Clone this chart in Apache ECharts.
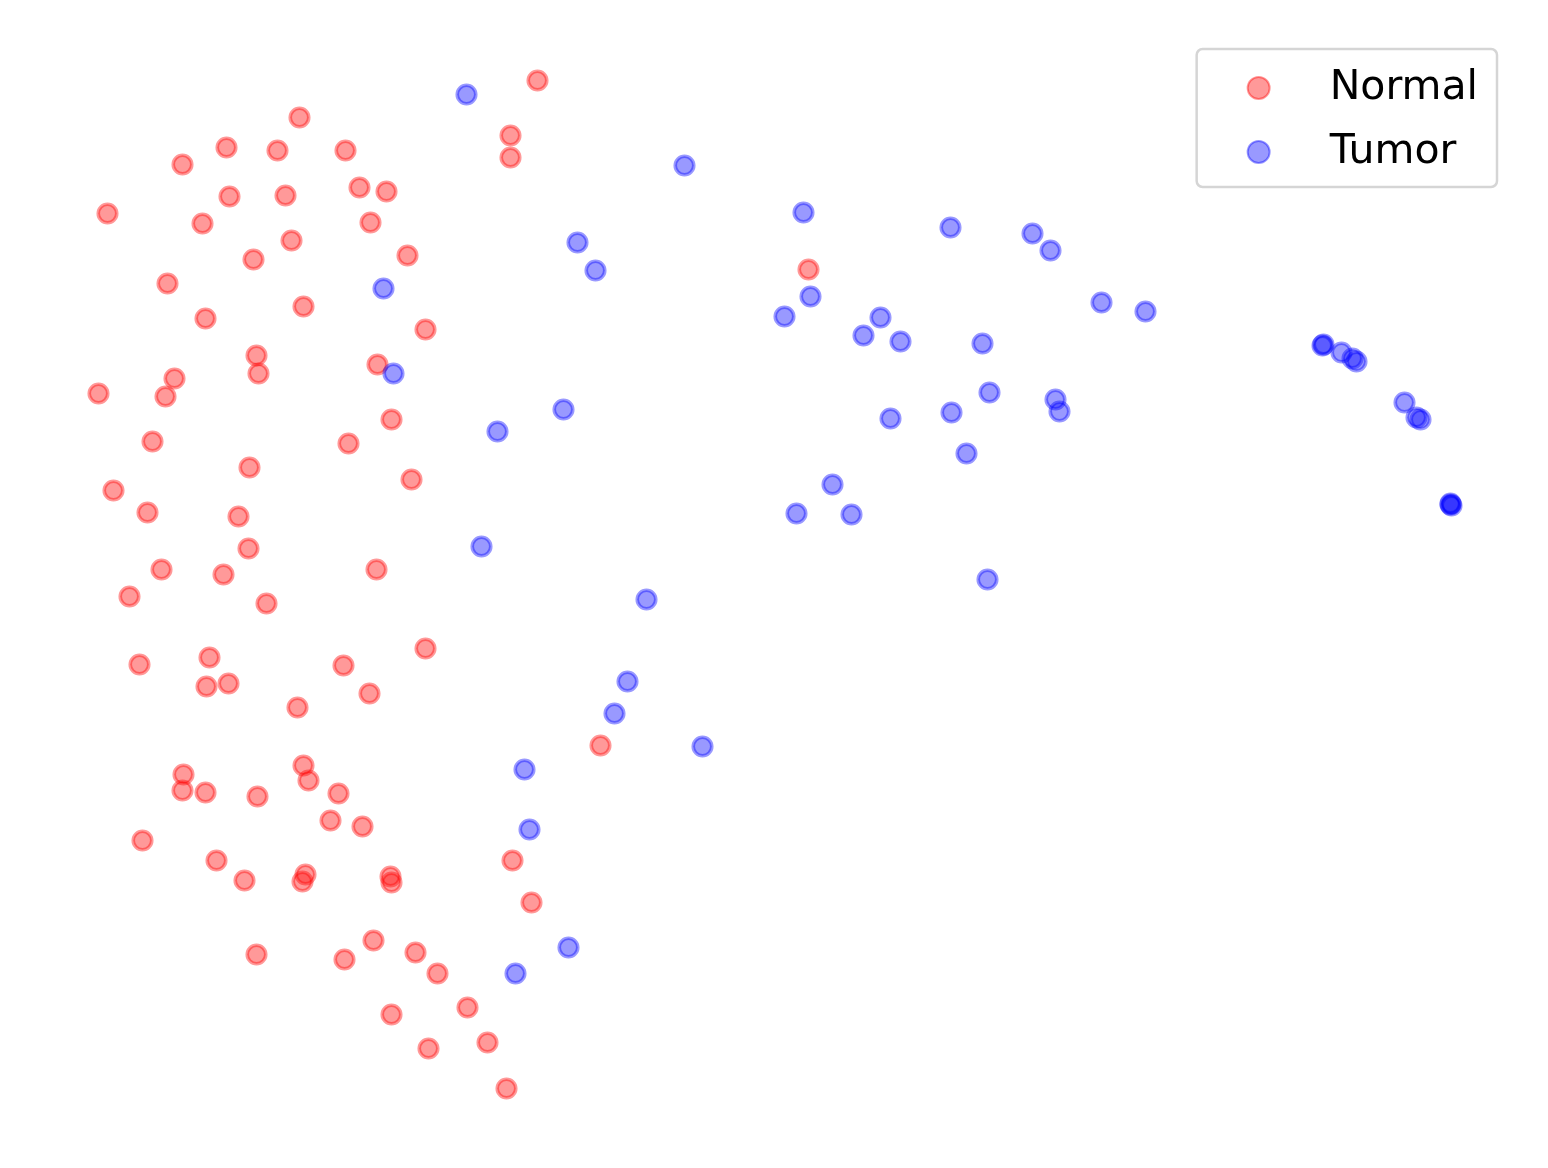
<!DOCTYPE html>
<html>
<head>
<meta charset="utf-8">
<title>Normal vs Tumor</title>
<script src="https://cdn.jsdelivr.net/npm/echarts@6/dist/echarts.min.js"></script>
<style>
  html, body { margin: 0; padding: 0; background: #fff; }
  #main { width: 1548px; height: 1168px; }
</style>
</head>
<body>
<div id="main"></div>
<script>
// embedding coordinates (no axis units shown, so picture units are used)
const seriesNames = ['Normal', 'Tumor'];

const normalX = [537, 299, 510, 510, 226, 277, 345, 182, 229, 285, 359, 386, 107, 202, 370, 291, 253, 407, 808, 167,
  303, 205, 425, 256, 258, 377, 174, 98, 165, 391, 152, 348, 249, 411, 113, 147, 238, 248, 161, 223,
  376, 129, 266, 425, 139, 209, 343, 206, 228, 369, 297, 600, 303, 308, 183, 182, 205, 257, 338, 330,
  362, 142, 216, 512, 244, 305, 302, 390, 391, 531, 256, 344, 373, 415, 437, 467, 391, 487, 428, 506];
const normalY = [80, 117, 135, 157, 147, 150, 150, 164, 196, 195, 187, 191, 213, 223, 222, 240, 259, 255, 269, 283,
  306, 318, 329, 355, 373, 364, 378, 393, 396, 419, 441, 443, 467, 479, 490, 512, 516, 548, 569, 574,
  569, 596, 603, 648, 664, 657, 665, 686, 683, 693, 707, 745, 765, 780, 774, 790, 792, 796, 793, 820,
  826, 840, 860, 860, 880, 874, 881, 876, 882, 902, 954, 959, 940, 952, 973, 1007, 1014, 1042, 1048, 1088];

const tumorX = [466, 684, 803, 577, 595, 383, 393, 810, 784, 880, 863, 900, 950, 1032, 1050, 1101, 1145, 982, 989, 951,
  890, 1055, 1059, 966, 563, 497, 832, 796, 851, 987, 481, 646, 627, 614, 702, 524, 529, 568, 515, 1323,
  1322, 1341, 1352, 1356, 1404, 1416, 1420, 1450, 1451, 1450];
const tumorY = [94, 165, 212, 242, 270, 288, 373, 296, 316, 317, 335, 341, 227, 233, 250, 302, 311, 343, 392, 412,
  418, 399, 411, 453, 409, 431, 484, 513, 514, 579, 546, 599, 681, 713, 746, 769, 829, 947, 973, 344,
  345, 352, 358, 361, 402, 417, 419, 504, 505, 503];

const colors = ['rgba(255, 0, 0, 0.5)', 'rgba(0, 0, 255, 0.5)'];

function pairs(xs, ys) {
  return xs.map((x, i) => [x, ys[i]]);
}

const chart = echarts.init(document.getElementById('main'));

chart.setOption({
  backgroundColor: '#fff',
  animation: false,
  grid: { left: 0, right: 0, top: 0, bottom: 0 },
  xAxis: { type: 'value', min: -0.5, max: 1547.5, show: false },
  yAxis: { type: 'value', min: -0.5, max: 1167.5, inverse: true, show: false },
  legend: {
    orient: 'vertical',
    right: 51,
    top: 49,
    padding: [16, 19, 12, 50],
    itemGap: 18,
    itemWidth: 22,
    itemHeight: 22,
    icon: 'circle',
    backgroundColor: '#fff',
    borderColor: '#d5d5d5',
    borderWidth: 2.5,
    borderRadius: 6,
    textStyle: {
      fontFamily: 'DejaVu Sans',
      fontSize: 41,
      lineHeight: 40,
      color: '#000',
      padding: [6, 0, 0, 55]
    },
    data: seriesNames
  },
  series: [
    {
      name: seriesNames[0],
      type: 'scatter',
      symbol: 'circle',
      symbolSize: 18.5,
      itemStyle: { color: colors[0], borderColor: colors[0], borderWidth: 3.6 },
      data: pairs(normalX, normalY)
    },
    {
      name: seriesNames[1],
      type: 'scatter',
      symbol: 'circle',
      symbolSize: 18.5,
      itemStyle: { color: colors[1], borderColor: colors[1], borderWidth: 3.6 },
      data: pairs(tumorX, tumorY)
    }
  ]
});
</script>
</body>
</html>
